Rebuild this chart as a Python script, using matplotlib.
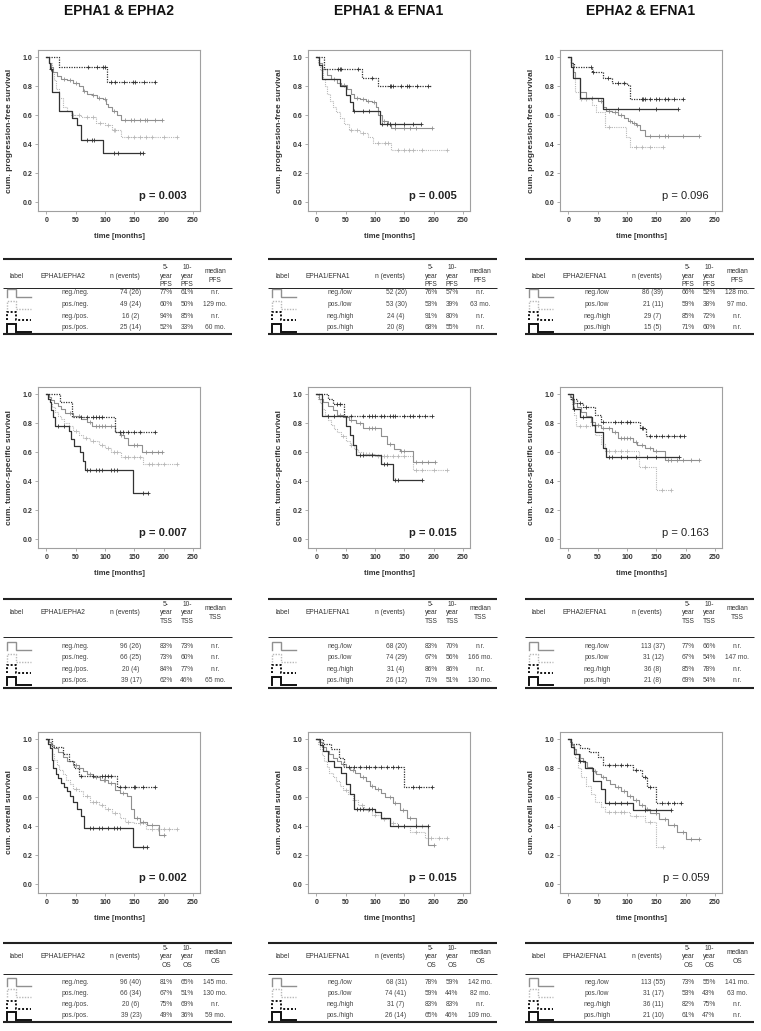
"""
Kaplan-Meier panels (PFS / TSS / OS) for EPHA1, EPHA2 and EFNA1 combinations,
each with its summary table below.
"""

import numpy as np
import matplotlib
matplotlib.use('Agg')
import matplotlib.pyplot as plt

plt.rcParams['font.family'] = ['Liberation Sans', 'DejaVu Sans']

W, H = 761, 1031

# ---------------------------------------------------------------- data
COL_TITLES = ['EPHA1 & EPHA2', 'EPHA1 & EFNA1', 'EPHA2 & EFNA1']
GENE_LABELS = ['EPHA1/EPHA2', 'EPHA1/EFNA1', 'EPHA2/EFNA1']
ENDPOINTS = ['PFS', 'TSS', 'OS']
Y_LABELS = ['cum. progression-free survival', 'cum. tumor-specific survival',
            'cum. overall survival']
P_VALUES = [['0.003', '0.005', '0.096'],
            ['0.007', '0.015', '0.163'],
            ['0.002', '0.015', '0.059']]
P_BOLD = [True, True, False]

GROUPS_A1A2 = ['neg./neg.', 'pos./neg.', 'neg./pos.', 'pos./pos.']
GROUPS_E1 = ['neg./low', 'pos./low', 'neg./high', 'pos./high']

# each curve: (drop times, survival after drop, last follow-up, censor times)
PFS_A1A2 = [
    ([4, 8, 12, 18, 25, 35, 45, 55, 62, 70, 78, 86, 96, 102, 106, 112, 120, 128],
     [.96, .93, .90, .87, .85, .84, .82, .80, .77, .75, .74, .72, .71, .68, .66, .63, .60, .57],
     198, [30, 40, 50, 65, 80, 90, 100, 115, 135, 145, 150, 160, 168, 172, 185, 198]),
    ([5, 9, 13, 17, 22, 28, 36, 42, 60, 85, 100, 112, 128],
     [.96, .90, .84, .78, .72, .66, .63, .60, .585, .55, .53, .50, .45],
     222, [45, 55, 70, 80, 92, 105, 115, 118, 140, 150, 160, 170, 180, 200, 222]),
    ([21, 103], [.93, .83], 185, [72, 86, 97, 100, 110, 118, 132, 148, 152, 166, 185]),
    ([4, 7, 9, 21, 44, 53, 59, 97], [.96, .92, .76, .63, .58, .535, .43, .34],
     165, [8, 70, 78, 82, 116, 122, 160, 165]),
]
PFS_A1E1 = [
    ([5, 10, 18, 25, 35, 42, 52, 60, 65, 75, 85, 95, 102, 106, 112, 122, 128],
     [.96, .92, .88, .85, .82, .81, .78, .75, .72, .71, .70, .69, .66, .60, .56, .54, .51],
     198, [30, 48, 70, 80, 88, 98, 115, 125, 135, 150, 160, 170, 198]),
    ([3, 7, 11, 15, 19, 23, 28, 33, 40, 48, 55, 75, 88, 96, 128],
     [.96, .91, .85, .80, .75, .70, .66, .62, .58, .54, .50, .48, .45, .41, .36],
     222, [60, 70, 80, 105, 118, 122, 140, 150, 158, 165, 180, 222]),
    ([14, 78, 105], [.92, .86, .80], 197,
     [37, 40, 42, 72, 95, 125, 128, 130, 145, 155, 158, 172, 190]),
    ([5, 10, 40, 50, 58, 62, 108], [.95, .85, .80, .74, .69, .63, .54],
     178, [65, 80, 90, 112, 120, 125, 135, 150, 165, 178]),
]
PFS_A2E1 = [
    ([4, 8, 12, 20, 30, 50, 60, 64, 75, 85, 95, 102, 108, 115, 122, 130],
     [.96, .90, .86, .76, .72, .70, .66, .63, .62, .60, .58, .56, .55, .53, .50, .46],
     222, [40, 55, 70, 80, 90, 105, 112, 118, 140, 155, 165, 170, 195, 222]),
    ([5, 8, 12, 20, 40, 48, 62, 98, 106], [.95, .86, .76, .71, .67, .62, .52, .45, .38],
     162, [22, 30, 70, 115, 125, 140, 162]),
    ([5, 10, 40, 60, 75, 100, 106], [.96, .93, .895, .855, .82, .81, .71],
     196, [38, 42, 68, 85, 95, 125, 128, 130, 140, 150, 155, 165, 170, 180, 196]),
    ([5, 8, 20, 60], [.93, .86, .72, .64], 187, [85, 120, 150, 187]),
]
TSS_A1A2 = [
    ([4, 8, 14, 20, 26, 32, 45, 60, 70, 78, 118, 125, 132, 140, 163],
     [.98, .96, .94, .92, .90, .87, .85, .83, .81, .78, .74, .72, .70, .65, .60],
     198, [40, 55, 75, 85, 90, 95, 100, 110, 128, 150, 155, 170, 180, 190, 198]),
    ([3, 6, 10, 15, 20, 25, 30, 38, 45, 55, 62, 75, 90, 100, 110, 128, 165],
     [.97, .94, .91, .88, .85, .83, .80, .78, .75, .72, .70, .68, .65, .63, .60, .57, .52],
     222, [50, 68, 80, 95, 105, 115, 120, 135, 140, 150, 160, 175, 180, 190, 200, 222]),
    ([24, 44, 118], [.95, .84, .74], 185,
     [60, 70, 80, 85, 90, 95, 125, 130, 140, 150, 160, 185]),
    ([3, 6, 8, 11, 15, 38, 42, 48, 58, 62, 66, 148],
     [.97, .95, .89, .84, .78, .75, .69, .64, .60, .54, .48, .32],
     173, [20, 30, 70, 75, 85, 90, 95, 110, 115, 120, 165, 173]),
]
TSS_A1E1 = [
    ([5, 12, 20, 28, 36, 45, 55, 68, 80, 110, 120, 132, 142, 165],
     [.97, .95, .92, .89, .86, .84, .82, .80, .77, .71, .66, .62, .61, .53],
     202, [40, 60, 75, 90, 95, 100, 125, 145, 150, 170, 180, 190, 202]),
    ([3, 6, 10, 15, 20, 25, 30, 35, 42, 50, 58, 65, 72, 80, 100, 165],
     [.97, .94, .90, .86, .82, .79, .76, .74, .71, .68, .65, .62, .60, .59, .575, .48],
     222, [45, 60, 85, 90, 95, 105, 110, 115, 120, 130, 140, 150, 170, 180, 200, 222]),
    ([20, 28, 48], [.97, .93, .85], 197,
     [35, 40, 60, 80, 90, 95, 100, 110, 115, 125, 130, 135, 150, 160, 165, 175, 185, 197]),
    ([10, 50, 58, 62, 67, 110, 130], [.85, .78, .72, .65, .58, .52, .41],
     180, [20, 30, 75, 80, 95, 115, 120, 135, 140, 180]),
]
TSS_A2E1 = [
    ([3, 6, 10, 15, 22, 30, 38, 46, 55, 75, 85, 110, 118, 130, 145, 165],
     [.98, .96, .94, .91, .88, .85, .81, .79, .77, .74, .70, .67, .65, .63, .61, .55],
     222, [40, 50, 60, 70, 80, 90, 95, 100, 105, 115, 125, 140, 150, 170, 175, 185, 195, 210, 222]),
    ([3, 6, 9, 13, 45, 55, 62, 120, 150], [.97, .93, .86, .78, .72, .66, .61, .50, .34],
     175, [20, 30, 70, 80, 90, 100, 130, 160, 175]),
    ([5, 15, 25, 45, 55, 122, 132], [.97, .94, .91, .86, .81, .77, .71],
     197, [20, 30, 60, 80, 90, 100, 105, 125, 128, 140, 150, 160, 170, 180, 190, 197]),
    ([8, 20, 40, 45, 60, 65], [.90, .84, .79, .74, .63, .57],
     188, [10, 25, 70, 75, 90, 100, 115, 135, 150, 188]),
]
OS_A1A2 = [
    ([4, 8, 14, 20, 28, 35, 45, 55, 62, 70, 80, 92, 105, 118, 125, 138, 145, 150, 160, 172, 192],
     [.98, .96, .94, .91, .88, .85, .82, .80, .78, .76, .74, .72, .70, .65, .63, .61, .52, .46, .43, .41, .34],
     202, [50, 75, 85, 98, 100, 110, 130, 155, 165, 180, 200]),
    ([3, 6, 10, 14, 18, 22, 28, 34, 40, 46, 55, 62, 75, 90, 100, 112, 125, 135, 150, 170],
     [.97, .94, .90, .86, .82, .79, .76, .72, .69, .66, .64, .61, .57, .55, .52, .49, .46, .43, .42, .38],
     222, [50, 70, 80, 85, 95, 105, 118, 140, 160, 180, 190, 200, 210, 222]),
    ([10, 28, 38, 48, 55, 120], [.95, .90, .85, .80, .75, .67],
     185, [60, 80, 95, 100, 105, 110, 125, 135, 150, 152, 165, 185]),
    ([3, 6, 9, 12, 16, 20, 25, 30, 36, 40, 45, 52, 60, 65, 148],
     [.97, .94, .86, .80, .76, .73, .70, .67, .64, .61, .57, .52, .47, .39, .26],
     172, [75, 80, 90, 95, 105, 115, 120, 125, 165, 172]),
]
OS_A1E1 = [
    ([4, 10, 16, 22, 28, 35, 42, 50, 58, 66, 75, 85, 92, 100, 110, 118, 130, 142, 155, 170, 190],
     [.98, .95, .92, .90, .87, .85, .83, .81, .79, .77, .74, .71, .68, .66, .63, .60, .56, .51, .46, .40, .27],
     200, [45, 62, 80, 95, 105, 125, 135, 148, 160, 180, 200]),
    ([3, 6, 10, 14, 18, 22, 28, 34, 40, 46, 54, 62, 72, 82, 95, 110, 125, 140, 160, 185],
     [.97, .93, .89, .85, .81, .77, .74, .71, .68, .65, .62, .58, .55, .51, .48, .45, .42, .40, .36, .32],
     222, [50, 65, 78, 88, 100, 115, 130, 150, 170, 195, 210, 222]),
    ([12, 25, 38, 48, 150], [.97, .93, .87, .81, .67],
     197, [55, 65, 75, 85, 90, 100, 110, 120, 130, 140, 165, 175, 197]),
    ([6, 12, 20, 30, 42, 50, 58, 65, 100, 110, 125],
     [.96, .92, .85, .81, .77, .69, .62, .52, .50, .46, .40],
     190, [70, 75, 80, 90, 95, 140, 150, 170, 190]),
]
OS_A2E1 = [
    ([3, 6, 10, 14, 20, 26, 32, 40, 48, 56, 64, 72, 80, 90, 100, 110, 120, 130, 140, 155, 170, 185, 200],
     [.98, .96, .93, .90, .87, .84, .81, .78, .76, .74, .72, .69, .67, .64, .61, .58, .55, .52, .49, .45, .41, .36, .31],
     222, [45, 60, 85, 95, 105, 115, 125, 135, 150, 165, 180, 195, 210, 222]),
    ([4, 8, 12, 16, 22, 30, 38, 46, 55, 62, 105, 130, 150],
     [.97, .93, .87, .80, .74, .68, .62, .57, .53, .50, .47, .43, .26],
     162, [70, 80, 90, 95, 115, 140, 162]),
    ([5, 20, 35, 50, 60, 110, 125, 135, 150], [.97, .94, .91, .88, .82, .79, .74, .67, .56],
     192, [70, 80, 90, 100, 115, 130, 140, 160, 170, 180, 192]),
    ([5, 10, 18, 28, 42, 55, 62, 110], [.95, .90, .85, .80, .71, .66, .56, .51],
     175, [20, 70, 80, 90, 100, 130, 150, 175]),
]
CURVES = [[PFS_A1A2, PFS_A1E1, PFS_A2E1],
          [TSS_A1A2, TSS_A1E1, TSS_A2E1],
          [OS_A1A2, OS_A1E1, OS_A2E1]]

# table rows: n (events), 5-year, 10-year, median
TBL_PFS_A1A2 = [('74 (26)', '77%', '61%', 'n.r.'), ('49 (24)', '60%', '50%', '129 mo.'),
                ('16 (2)', '94%', '85%', 'n.r.'), ('25 (14)', '52%', '33%', '60 mo.')]
TBL_PFS_A1E1 = [('52 (20)', '76%', '57%', 'n.r.'), ('53 (30)', '53%', '39%', '63 mo.'),
                ('24 (4)', '91%', '80%', 'n.r.'), ('20 (8)', '68%', '55%', 'n.r.')]
TBL_PFS_A2E1 = [('86 (39)', '66%', '52%', '128 mo.'), ('21 (11)', '59%', '38%', '97 mo.'),
                ('29 (7)', '85%', '72%', 'n.r.'), ('15 (5)', '71%', '60%', 'n.r.')]
TBL_TSS_A1A2 = [('96 (26)', '83%', '73%', 'n.r.'), ('66 (25)', '73%', '60%', 'n.r.'),
                ('20 (4)', '84%', '77%', 'n.r.'), ('39 (17)', '62%', '46%', '65 mo.')]
TBL_TSS_A1E1 = [('68 (20)', '83%', '70%', 'n.r.'), ('74 (29)', '67%', '56%', '166 mo.'),
                ('31 (4)', '86%', '86%', 'n.r.'), ('26 (12)', '71%', '51%', '130 mo.')]
TBL_TSS_A2E1 = [('113 (37)', '77%', '66%', 'n.r.'), ('31 (12)', '67%', '54%', '147 mo.'),
                ('36 (8)', '85%', '78%', 'n.r.'), ('21 (8)', '69%', '54%', 'n.r.')]
TBL_OS_A1A2 = [('96 (40)', '81%', '65%', '145 mo.'), ('66 (34)', '67%', '51%', '130 mo.'),
               ('20 (6)', '75%', '69%', 'n.r.'), ('39 (23)', '49%', '36%', '59 mo.')]
TBL_OS_A1E1 = [('68 (31)', '78%', '59%', '142 mo.'), ('74 (41)', '59%', '44%', '82 mo.'),
               ('31 (7)', '83%', '83%', 'n.r.'), ('26 (14)', '65%', '46%', '109 mo.')]
TBL_OS_A2E1 = [('113 (55)', '73%', '55%', '141 mo.'), ('31 (17)', '53%', '43%', '63 mo.'),
               ('36 (11)', '82%', '75%', 'n.r.'), ('21 (10)', '61%', '47%', 'n.r.')]
TABLES = [[TBL_PFS_A1A2, TBL_PFS_A1E1, TBL_PFS_A2E1],
          [TBL_TSS_A1A2, TBL_TSS_A1E1, TBL_TSS_A2E1],
          [TBL_OS_A1A2, TBL_OS_A1E1, TBL_OS_A2E1]]

# ---------------------------------------------------------------- layout (pixels)
AX_LEFT = [38, 308, 560]
AX_TOP = [50, 387, 732]
AX_W, AX_H = 162, 161

TBL_LEFT = [3, 268, 525]
TBL_WIDTH = 229
TBL_TOP = [259, 599, 943]
TBL_HEAD_Y = [276, 613, 957]
TBL_SEP_Y = [288, 637, 974]
TBL_ROW0 = [293, 646, 982]
TBL_DY = [11.5, 11.6, 11.3]
TBL_BOT = [334, 688, 1022]

HEAD_X = [14, 60, 122, 163, 184, 212]
DATA_X = [None, 72, 128, 163, 184, 212]

STYLES = [dict(color='#909090', ls='-', lw=0.8),
          dict(color='#b8b8b8', ls=(0, (1, 1)), lw=0.8),
          dict(color='#333333', ls=(0, (1, 1)), lw=0.9),
          dict(color='#333333', ls='-', lw=0.9)]
ICON_LW = [1.0, 1.0, 1.4, 1.4]
DRAW_ORDER = [1, 0, 2, 3]

TXT = '#333333'
SPINE = '#a0a0a0'


def surv_at(times, survs, t):
    idx = np.searchsorted(times, t, side='right')
    vals = np.concatenate([[1.0], survs])
    return vals[idx]


def draw_km(ax, curves, ylabel, pval, bold):
    for g in DRAW_ORDER:
        times, survs, end, cens = curves[g]
        st = STYLES[g]
        tt = np.array([0] + list(times) + [end], dtype=float)
        ss = np.array([1.0] + list(survs) + [survs[-1]])
        ax.step(tt, ss, where='post', color=st['color'], ls=st['ls'], lw=st['lw'])
        cy = surv_at(np.array(times), np.array(survs), np.array(cens))
        ax.plot(cens, cy, ls='none', marker='+', ms=2.6, mew=0.6, color=st['color'])
    ax.set_xlim(-14, 262)
    ax.set_ylim(-0.06, 1.05)
    ax.set_xticks(np.arange(0, 251, 50))
    ax.set_yticks(np.arange(0, 1.01, 0.2))
    ax.set_yticklabels(['%.1f' % v for v in np.arange(0, 1.01, 0.2)])
    for sp in ax.spines.values():
        sp.set_color(SPINE)
        sp.set_linewidth(0.8)
    ax.tick_params(length=2.5, width=0.6, color=SPINE, labelsize=5.0,
                   labelcolor=TXT, pad=1.5)
    for lab in ax.get_xticklabels() + ax.get_yticklabels():
        lab.set_fontweight('bold')
    ax.set_ylabel(ylabel, fontsize=6.0, weight='bold', color=TXT)
    ax.yaxis.set_label_coords(-0.155, 0.5)
    ax.set_xlabel('time [months]', fontsize=5.6, weight='bold', color=TXT)
    ax.xaxis.set_label_coords(0.5, -0.135)
    ax.text(240, 0.04, 'p = ' + pval, ha='right', va='center', fontsize=8,
            weight='bold' if bold else 'normal', color='#222222')


def draw_table(ov, r, c, rows, groups):
    x0 = TBL_LEFT[c]
    x1 = x0 + TBL_WIDTH
    ov.plot([x0, x1], [TBL_TOP[r]] * 2, color='#222222', lw=1.5, solid_capstyle='butt')
    ov.plot([x0, x1], [TBL_SEP_Y[r]] * 2, color='#222222', lw=0.7, solid_capstyle='butt')
    ov.plot([x0, x1], [TBL_BOT[r]] * 2, color='#222222', lw=1.5, solid_capstyle='butt')
    ep = ENDPOINTS[r]
    heads = ['label', GENE_LABELS[c], 'n (events)', '5-\nyear\n' + ep,
             '10-\nyear\n' + ep, 'median\n' + ep]
    hy = TBL_HEAD_Y[r]
    for hx, h in zip(HEAD_X, heads):
        ov.text(x0 + hx, hy, h, ha='center', va='center', fontsize=4.8,
                color=TXT, linespacing=1.35)
    for i, row in enumerate(rows):
        y = TBL_ROW0[r] + i * TBL_DY[r]
        st = STYLES[i]
        ix = [x0 + 4, x0 + 4, x0 + 13, x0 + 13, x0 + 28]
        iy = [y + 4, y - 4, y - 4, y + 4, y + 4]
        ov.plot(ix, iy, color=st['color'] if i < 2 else '#111111', ls=st['ls'],
                lw=ICON_LW[i], solid_joinstyle='miter')
        cells = [groups[i]] + list(row)
        for dx, txt in zip(DATA_X[1:], cells):
            ov.text(x0 + dx, y, txt, ha='center', va='center', fontsize=4.8,
                    color='#444444')


fig = plt.figure(figsize=(W / 100, H / 100), dpi=100)
ov = fig.add_axes([0, 0, 1, 1])
ov.set_xlim(0, W)
ov.set_ylim(H, 0)
ov.axis('off')

for c in range(3):
    cx = AX_LEFT[c] + AX_W / 2
    ov.text(cx, 11, COL_TITLES[c], ha='center', va='center', fontsize=10,
            weight='bold', color='#111111')

for r in range(3):
    for c in range(3):
        left, top = AX_LEFT[c], AX_TOP[r]
        ax = fig.add_axes([left / W, 1 - (top + AX_H) / H, AX_W / W, AX_H / H])
        draw_km(ax, CURVES[r][c], Y_LABELS[r], P_VALUES[r][c], P_BOLD[c])
        groups = GROUPS_A1A2 if c == 0 else GROUPS_E1
        draw_table(ov, r, c, TABLES[r][c], groups)

fig.savefig('out.png', dpi=100, facecolor='white')
